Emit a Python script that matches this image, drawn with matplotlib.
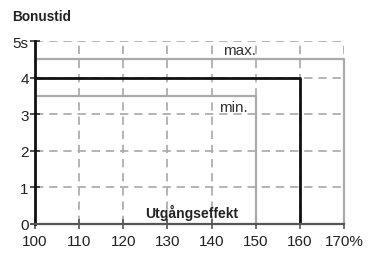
import matplotlib
matplotlib.use("Agg")
import matplotlib.pyplot as plt

plt.rcParams['font.family'] = ['Liberation Sans', 'DejaVu Sans']

x_ticks = [100, 110, 120, 130, 140, 150, 160, 170]
x_labels = ["100", "110", "120", "130", "140", "150", "160", "170%"]
y_ticks = [0, 1, 2, 3, 4, 5]
y_labels = ["0", "1", "2", "3", "4", "5s"]

# step curves: (output %, bonus time s)
max_x = [100, 170, 170]
max_y = [4.5, 4.5, 0]
nom_x = [100, 160, 160]
nom_y = [4, 4, 0]
min_x = [100, 150, 150]
min_y = [3.5, 3.5, 0]

fig = plt.figure(figsize=(3.69, 2.55), dpi=100)
ax = fig.add_axes([0.095, 0.118, 0.837, 0.717])

ax.set_xlim(100, 170)
ax.set_ylim(0, 5)

ax.grid(True, color='#a8a8a8', linestyle=(0, (5, 3.5)), linewidth=1.2)
ax.set_axisbelow(True)

ax.plot(max_x, max_y, color='#aaaaaa', linewidth=1.6, solid_capstyle='butt', clip_on=False)
ax.plot(min_x, min_y, color='#aaaaaa', linewidth=1.6, solid_capstyle='butt', clip_on=False)
ax.plot(nom_x, nom_y, color='#111111', linewidth=2.0, solid_capstyle='butt', clip_on=False)

ax.set_xticks(x_ticks)
ax.set_xticklabels(x_labels)
ax.set_yticks(y_ticks)
ax.set_yticklabels(y_labels)

for s in ['top', 'right']:
    ax.spines[s].set_visible(False)
ax.spines['left'].set_color('#111111')
ax.spines['left'].set_linewidth(2.0)
ax.spines['bottom'].set_color('#555555')
ax.spines['bottom'].set_linewidth(1.6)

ax.tick_params(axis='y', direction='inout', length=7, width=1.2, color='#333333',
               labelsize=11, pad=1, labelcolor='#222222')
ax.tick_params(axis='x', direction='inout', length=7, width=1.2, color='#555555',
               labelsize=11, pad=4, labelcolor='#222222')

ax.text(142.7, 4.75, "max.", fontsize=11, color='#333333', va='center', ha='left')
ax.text(141.8, 3.2, "min.", fontsize=11, color='#333333', va='center', ha='left')
ax.text(135.5, 0.32, "Utgångseffekt", fontsize=10, fontweight='bold', color='#222222',
        va='center', ha='center')
fig.text(12/369, 1 - 17/255, "Bonustid", fontsize=9.8, fontweight='bold', color='#222222',
         va='center', ha='left')

fig.savefig("out.png", dpi=100)
